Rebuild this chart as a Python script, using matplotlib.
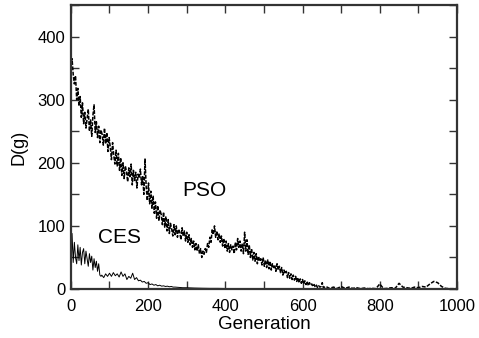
import matplotlib.pyplot as plt
from matplotlib.ticker import MultipleLocator, FuncFormatter

plt.rcParams['font.family'] = ['Liberation Sans', 'DejaVu Sans']
plt.rcParams['font.size'] = 12

# PSO diversity (every 3 generations up to 657, then every 10)
pso_gen = list(range(0, 660, 3)) + list(range(660, 1010, 10))
pso_d = [352, 365, 340, 325, 338, 300, 318, 290, 305, 272,
         295, 262, 280, 255, 270, 285, 250, 268, 242, 275,
         292, 248, 265, 240, 258, 232, 252, 245, 228, 255,
         230, 248, 218, 240, 225, 205, 232, 212, 198, 220,
         195, 215, 188, 208, 180, 200, 175, 195, 186, 170,
         192, 178, 198, 165, 188, 172, 185, 160, 182, 176,
         190, 165, 178, 150, 206, 162, 140, 168, 135, 155,
         128, 148, 120, 138, 112, 132, 108, 125, 118, 102,
         122, 98, 115, 92, 110, 88, 104, 95, 84, 102,
         86, 100, 82, 95, 90, 78, 97, 84, 92, 76,
         90, 74, 86, 70, 80, 66, 76, 62, 72, 60,
         70, 56, 64, 50, 60, 55, 64, 58, 72, 66,
         82, 74, 95, 86, 100, 82, 92, 78, 88, 74,
         84, 68, 80, 64, 76, 60, 72, 58, 70, 62,
         68, 56, 74, 62, 80, 66, 76, 60, 72, 56,
         90, 60, 78, 55, 70, 50, 64, 46, 58, 44,
         56, 40, 52, 44, 48, 38, 50, 36, 46, 34,
         46, 32, 44, 30, 40, 34, 38, 28, 40, 30,
         36, 26, 34, 22, 30, 24, 28, 18, 26, 17,
         24, 15, 22, 14, 20, 12, 18, 10, 16, 9,
         15, 8, 13, 7, 12, 5, 10, 6, 8, 4,
         7, 3, 6, 2, 5, 3, 4, 10, 2, 3,
         4, 1, 3, 1, 4, 1, 3, 1, 2, 0.5,
         1.5, 0.5, 1, 0.5, 8, 0.5, 1, 2, 1, 9,
         3, 2, 1, 3, 2, 4, 3, 8, 12, 10,
         4, 1, 0.5, 0.5, 0.5]

# CES diversity
ces_gen = (list(range(0, 75, 3)) + [75, 78] + list(range(80, 275, 5))
           + [280, 290, 300, 320, 340, 360, 380, 400, 450, 500,
              600, 700, 800, 900, 1000])
ces_d = [20, 88, 42, 74, 50, 40, 70, 45, 66, 38,
         58, 64, 40, 60, 48, 36, 56, 42, 52, 30,
         48, 34, 44, 28, 40,
         22, 20,
         22, 18, 24, 20, 25, 20, 26, 21, 24, 19,
         27, 20, 24, 15, 20, 17, 25, 15, 18, 13,
         14, 11, 12, 9, 10, 7, 8, 6, 7, 5,
         6, 4.5, 5, 4, 4.5, 3.5, 4, 3, 3,
         2.5, 2, 2, 1.5, 1.2, 1, 1, 0.8, 0.6, 0.5,
         0.3, 0.2, 0.1, 0.1, 0.1]

fig = plt.figure(figsize=(4.79, 3.38), dpi=100)
ax = fig.add_axes([0.148, 0.145, 0.806, 0.840])

ax.plot(pso_gen, pso_d, color='black', linewidth=1.1, linestyle=(0, (2.5, 1)))
ax.plot(ces_gen, ces_d, color='black', linewidth=0.7)

ax.text(347, 156, 'PSO', fontsize=15, ha='center', va='center')
ax.text(127, 82, 'CES', fontsize=15, ha='center', va='center')

ax.set_xlim(0, 1000)
ax.set_ylim(0, 450)
ax.xaxis.set_major_locator(MultipleLocator(100))
ax.xaxis.set_major_formatter(FuncFormatter(lambda v, p: f'{int(v)}' if int(v) % 200 == 0 else ''))
ax.yaxis.set_major_locator(MultipleLocator(50))
ax.yaxis.set_major_formatter(FuncFormatter(lambda v, p: f'{int(v)}' if int(v) % 100 == 0 else ''))
ax.tick_params(direction='in', length=6, width=1, top=True, right=True,
               labelsize=12, colors='#333333', labelcolor='black')
ax.tick_params(axis='x', pad=7)
ax.tick_params(axis='y', pad=4)
for s in ax.spines.values():
    s.set_linewidth(1.6)
    s.set_color('#333333')

ax.set_xlabel('Generation', fontsize=13.5, labelpad=2)
ax.set_ylabel('D(g)', fontsize=13, labelpad=7)

fig.savefig('out.png', dpi=100)
